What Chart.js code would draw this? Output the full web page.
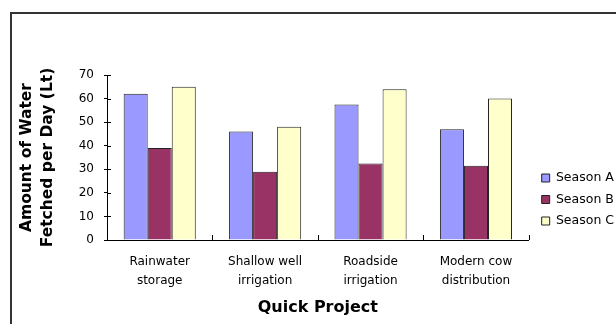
<!DOCTYPE html>
<html>
<head>
<meta charset="utf-8">
<script src="https://cdn.jsdelivr.net/npm/chart.js@4/dist/chart.umd.min.js"></script>
<style>
  html, body { margin: 0; padding: 0; background: #fff; overflow: hidden; width: 616px; height: 324px; }
  #frame { position: absolute; left: 10px; top: 12px; width: 700px; height: 400px; border-left: 2px solid #333; border-top: 2px solid #333; z-index: 0; }
  #c { position: absolute; left: 0; top: 0; z-index: 1; }
</style>
</head>
<body>
<div id="frame"></div>
<canvas id="c" width="640" height="324"></canvas>
<script>
const categories = [["Rainwater", "storage"], ["Shallow well", "irrigation"], ["Roadside", "irrigation"], ["Modern cow", "distribution"]];
const seriesNames = ["Season A", "Season B", "Season C"];
const seasonA = [62, 46, 57.5, 47];
const seasonB = [39, 29, 32.5, 31.5];
const seasonC = [65, 48, 64, 60];
const yTitle = ["Amount of Water", "Fetched per Day (Lt)"];
const xTitle = "Quick Project";
const yMin = 0, yMax = 70, yStep = 10;

const colors = ["#9999FF", "#993366", "#FFFFCC"];
const FONT = "'DejaVu Sans', sans-serif";

const innerTicks = {
  id: 'innerTicks',
  afterDatasetsDraw(chart) {
    const ctx = chart.ctx;
    const xs = chart.scales.x, ys = chart.scales.y;
    const area = chart.chartArea;
    ctx.save();
    ctx.strokeStyle = '#000';
    ctx.lineWidth = 1;
    ctx.beginPath();
    ys.ticks.forEach(t => {
      const py = Math.round(ys.getPixelForValue(t.value)) + 0.5;
      ctx.moveTo(area.left, py);
      ctx.lineTo(area.left + 4, py);
    });
    const n = categories.length;
    for (let i = 1; i <= n; i++) {
      const px = Math.round((xs.getPixelForValue(i - 1) + (i < n ? xs.getPixelForValue(i) : 2 * xs.getPixelForValue(i - 1) - xs.getPixelForValue(i - 2))) / 2) + 0.5;
      ctx.moveTo(px, area.bottom);
      ctx.lineTo(px, area.bottom - 5);
    }
    ctx.stroke();
    ctx.restore();
  }
};

const shiftLegend = {
  id: 'shiftLegend',
  afterLayout(chart) {
    if (chart.legend) { chart.legend.left += 4; chart.legend.right += 4; }
  }
};

new Chart(document.getElementById('c'), {
  type: 'bar',
  data: {
    labels: categories,
    datasets: [
      { label: seriesNames[0], data: seasonA, backgroundColor: colors[0] },
      { label: seriesNames[1], data: seasonB, backgroundColor: colors[1] },
      { label: seriesNames[2], data: seasonC, backgroundColor: colors[2] }
    ].map(d => Object.assign(d, { borderColor: '#222', borderWidth: 1, borderSkipped: 'start', categoryPercentage: 0.684, barPercentage: 1.0 }))
  },
  plugins: [innerTicks, shiftLegend],
  options: {
    responsive: false,
    animation: false,
    devicePixelRatio: 1,
    layout: { padding: { left: 10, top: 75, right: 20, bottom: 0 } },
    plugins: {
      legend: {
        position: 'right',
        labels: {
          boxWidth: 8, boxHeight: 8, padding: 9, color: '#000',
          font: { family: FONT, size: 12.5 }
        }
      },
      tooltip: { enabled: false }
    },
    scales: {
      x: {
        grid: { display: false, drawTicks: false },
        border: { display: true, color: '#000', width: 1 },
        ticks: { color: '#000', padding: 12.5, maxRotation: 0, autoSkip: false, font: { family: FONT, size: 12, lineHeight: 1.58 } },
        title: { display: true, text: xTitle, color: '#000', padding: { top: 0, bottom: 7.5 }, font: { family: FONT, size: 16, weight: 'bold', lineHeight: 1.05 } },
        afterFit(s) { s.height = 84; }
      },
      y: {
        min: yMin, max: yMax,
        grid: { drawOnChartArea: false, drawTicks: true, tickLength: 3, color: '#000' },
        border: { display: true, color: '#000', width: 1 },
        ticks: { stepSize: yStep, color: '#000', padding: 10, font: { family: FONT, size: 12 } },
        title: { display: true, text: yTitle, color: '#000', padding: { top: 6.5, bottom: 0 }, font: { family: FONT, size: 15.5, weight: 'bold', lineHeight: 1.355 } },
        afterFit(s) { s.width = 97; }
      }
    }
  }
});
</script>
</body>
</html>
